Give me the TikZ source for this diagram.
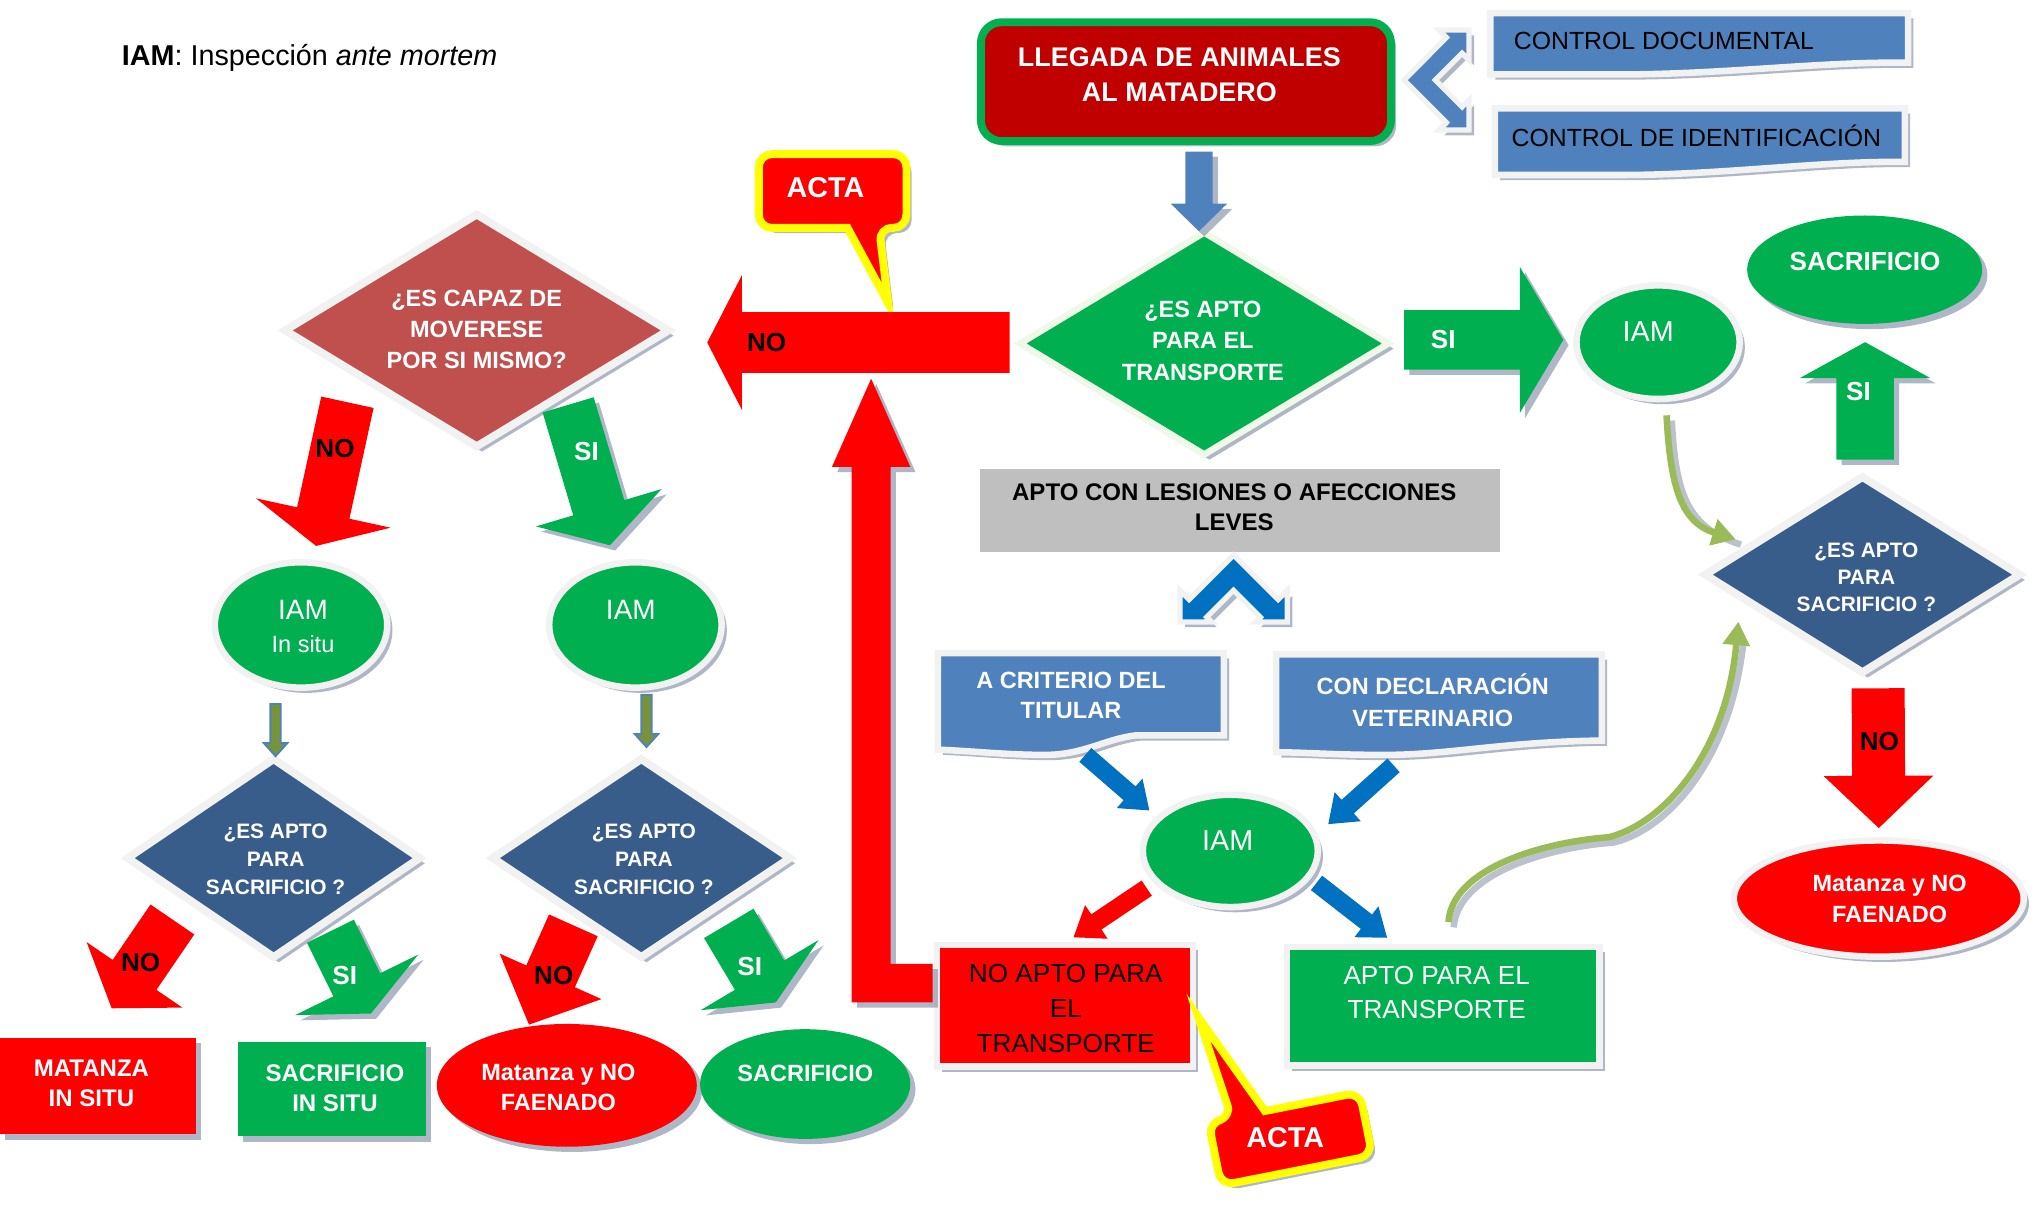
\documentclass[tikz,border=0pt]{standalone}
\usepackage{fontspec}
\setmainfont{Liberation Sans}
\usetikzlibrary{calc,shapes.geometric,shadows,arrows.meta}
\definecolor{redc}{HTML}{FF0000}
\definecolor{darkred}{HTML}{C00000}
\definecolor{grn}{HTML}{00B050}
\definecolor{brownc}{HTML}{C0504D}
\definecolor{navy}{HTML}{385D8A}
\definecolor{docblue}{HTML}{4F81BD}
\definecolor{arrblue}{HTML}{0070C0}
\definecolor{grayc}{HTML}{BFBFBF}
\definecolor{olivec}{HTML}{9BBB59}
\definecolor{smgreen}{HTML}{77933C}
\definecolor{lightc}{HTML}{F2F2F2}
\definecolor{lightg}{HTML}{F0F8E8}
\definecolor{yellowc}{HTML}{FFFF00}
\definecolor{shadowc}{RGB}{141,153,174}
\newcommand\fsz[2]{\fontsize{#1}{#2}\selectfont}
\newcommand\blkarrow[6]{%
  \coordinate (bkH) at ($(#3)!#6!(#2)$);
  \path[#1] ($(#2)!#4!90:(#3)$) -- ($(bkH)!#4!90:(#3)$) -- ($(bkH)!#5!90:(#3)$) -- (#3)
     -- ($(bkH)!#5!-90:(#3)$) -- ($(bkH)!#4!-90:(#3)$) -- ($(#2)!#4!-90:(#3)$) -- cycle;}
\tikzset{
  shd/.style={drop shadow={shadow xshift=2pt,shadow yshift=-2pt,fill=shadowc,opacity=0.7}},
  lightborder/.style={draw=lightc,line width=2.5pt},
  txtw/.style={text=white,align=center,inner sep=0pt},
  txtk/.style={text=black,align=center,inner sep=0pt},
  docbox/.style={fill=docblue,draw=lightc,line width=2.5pt,shd},
  acta/.style={fill=redc,draw=yellowc,line width=3pt,shd},
  chevron/.style={draw=lightc,line width=2pt,line join=miter,shd},
  oliveline/.style={draw=olivec,line width=2.5pt,arrows={-Triangle[length=9pt,width=10pt]}},
  oliveshd/.style={draw=shadowc,line width=2.5pt,opacity=0.6},
  smallarr/.style={fill=smgreen,draw=docblue,line width=0.7pt},
  lbl/.style={inner sep=0pt,font=\bfseries\fsz{10}{12}},
}
\begin{document}
\begin{tikzpicture}[x=0.5pt,y=-0.5pt]
\useasboundingbox (0,0) rectangle (1565,925);

% title
\node[anchor=base west,inner sep=0pt,font=\fsz{11}{13}] (title) at (93,50) {\textbf{IAM}: Inspección \textit{ante mortem}};

% LLEGADA
\node[rectangle,rounded corners=8pt,fill=darkred,draw=grn,line width=3pt,minimum width=157pt,minimum height=45.5pt,inner sep=0pt,shd] (lleg) at (908,62.5) {};

% control boxes
\path[docbox] (1141,10) -- (1461,10) -- (1461,48) .. controls (1395,47) and (1320,57) .. (1240,57) -- (1141,57) -- cycle;
\path[docbox] (1144.5,83) -- (1458.5,83) -- (1458.5,124) .. controls (1395,123) and (1320,134) .. (1240,134) -- (1144.5,134) -- cycle;
% double chevron arrow
\path[chevron,fill=docblue] (1075,61.3) -- (1107.5,28.75) -- (1101.8,23) -- (1124.7,23) -- (1124.7,46) -- (1119.5,40.75) -- (1099,61.3)
  -- (1119.5,81.85) -- (1124.7,76.6) -- (1124.7,99.6) -- (1101.8,99.6) -- (1107.5,93.85) -- cycle;

% transport diamond
\node[diamond,fill=grn,draw=lightg,line width=2.5pt,minimum width=142pt,minimum height=86pt,inner sep=0pt,shd] (dT) at (922,263) {};

% ACTA top
\path[acta] (581,146) [rounded corners=5pt] -- (581,118) -- (694,118) -- (694,174.5) -- (673,174.5) [sharp corners] -- (680,232) -- (649,174.5) [rounded corners=5pt] -- (581,174.5) -- cycle;

% gray box
\node[rectangle,fill=grayc,minimum width=199.35pt,minimum height=32pt,inner sep=0pt] (lev) at (949.35,391) {};
\path[chevron,fill=arrblue] (944.5,425) -- (910.45,459.05) -- (903.4,452) -- (903.4,476.2) -- (927.6,476.2) -- (923.95,472.55) -- (944.5,452)
  -- (965.05,472.55) -- (961.4,476.2) -- (985.6,476.2) -- (985.6,452) -- (978.55,459.05) -- cycle;

% document boxes
\path[docbox] (718,500) -- (937,500) -- (937,563) -- (870,563) .. controls (845,566) and (830,578) .. (800,578) .. controls (770,578) and (745,575) .. (718,574) -- cycle;
\path[docbox] (977,501) -- (1226.5,501) -- (1226.5,567) .. controls (1150,568) and (1110,578) .. (1060,578) .. controls (1020,578) and (1000,576) .. (977,576) -- cycle;

% IAM center
\node[ellipse,fill=grn,lightborder,shd,minimum width=67pt,minimum height=43pt,inner sep=0pt] (iamC) at (942,651.5) {};

% NO APTO / APTO boxes
\node[rectangle,fill=redc,lightborder,shd,minimum width=98pt,minimum height=46.5pt,inner sep=0pt] (noapto) at (815.5,770) {};
\node[rectangle,fill=grn,lightborder,shd,minimum width=119.5pt,minimum height=45.5pt,inner sep=0pt] (apto) at (1105,770.5) {};

% ACTA bottom
\begin{scope}[shift={(988,872)},rotate=11.2]
\path[acta] (-59,0) [rounded corners=5pt] -- (-59,-24.7) -- (-41,-24.7) [sharp corners] -- (-51,-105) -- (-15,-24.7) [rounded corners=5pt] -- (59,-24.7) -- (59,24.7) -- (-59,24.7) -- cycle;
\end{scope}

% red up arrow (L shape)
\path[fill=redc,shd] (714,738) -- (682,738) -- (682,357.5) -- (697,357.5) -- (667,290) -- (637,357.5) -- (652,357.5) -- (652,767.5) -- (714,767.5) -- cycle;

% right side shapes
\node[ellipse,fill=grn,lightborder,shd,minimum width=62.5pt,minimum height=43.5pt,inner sep=0pt] (iamR) at (1269.5,262) {};
\node[ellipse,fill=grn,shd,minimum width=90pt,minimum height=41.5pt,inner sep=0pt] (sacR) at (1427.7,206.5) {};
\node[diamond,fill=navy,draw=lightc,line width=3pt,shd,minimum width=121.6pt,minimum height=76pt,inner sep=0pt] (dR) at (1426,440) {};
\node[ellipse,fill=redc,lightborder,shd,minimum width=111pt,minimum height=44.5pt,inner sep=0pt] (matR) at (1438.5,688) {};

% left side shapes
\node[diamond,fill=brownc,draw=lightc,line width=3pt,shd,minimum width=148pt,minimum height=90pt,inner sep=0pt] (dM) at (365,253) {};
\node[ellipse,fill=grn,lightborder,shd,minimum width=66pt,minimum height=48pt,inner sep=0pt] (iamL) at (230.5,478.5) {};
\node[ellipse,fill=grn,lightborder,shd,minimum width=66pt,minimum height=48pt,inner sep=0pt] (iamM) at (486.5,478.5) {};
\node[diamond,fill=navy,draw=lightc,line width=3pt,shd,minimum width=113pt,minimum height=77pt,inner sep=0pt] (dL1) at (209.5,657) {};
\node[diamond,fill=navy,draw=lightc,line width=3pt,shd,minimum width=115pt,minimum height=77pt,inner sep=0pt] (dL2) at (491,657) {};
\node[rectangle,fill=redc,shd,minimum width=75pt,minimum height=37pt,inner sep=0pt] (matL) at (75,831.5) {};
\node[rectangle,fill=grn,shd,minimum width=72pt,minimum height=36pt,inner sep=0pt] (sacL) at (254,834) {};
\node[ellipse,fill=redc,shd,minimum width=99.5pt,minimum height=47pt,inner sep=0pt] (matB) at (434,831) {};
\node[ellipse,fill=grn,shd,minimum width=80.5pt,minimum height=42pt,inner sep=0pt] (sacB) at (616.5,830) {};

% ---------- arrows
\coordinate (a1t) at (918,116); \coordinate (a1h) at (918,177);
\blkarrow{fill=docblue,shd}{a1t}{a1h}{5.25pt}{10.75pt}{10.5pt}
\coordinate (a2t) at (773,262.25); \coordinate (a2h) at (541.5,262.25);
\blkarrow{fill=redc}{a2t}{a2h}{11.6pt}{25.75pt}{13.25pt}
\coordinate (a3t) at (1075,260.25); \coordinate (a3h) at (1197,260.25);
\blkarrow{fill=grn,shd}{a3t}{a3h}{11.4pt}{28pt}{16.7pt}
\coordinate (a4t) at (1428,352); \coordinate (a4h) at (1428,262);
\blkarrow{fill=grn,shd}{a4t}{a4h}{11pt}{25pt}{13.75pt}
\coordinate (a5t) at (1438,527); \coordinate (a5h) at (1438.5,634);
\blkarrow{fill=redc}{a5t}{a5h}{10.15pt}{21pt}{20pt}
\coordinate (a6t) at (266,308); \coordinate (a6h) at (242,418);
\blkarrow{fill=redc}{a6t}{a6h}{10.25pt}{26.35pt}{12.9pt}
\coordinate (a7t) at (435,310); \coordinate (a7h) at (467,417.5);
\blkarrow{fill=grn,shd}{a7t}{a7h}{10.2pt}{25.1pt}{15pt}
\coordinate (a8t) at (132,704); \coordinate (a8h) at (85.5,772);
\blkarrow{fill=redc}{a8t}{a8h}{10.15pt}{22.2pt}{15.5pt}
\coordinate (a9t) at (253,713); \coordinate (a9h) at (284,776);
\blkarrow{fill=grn,shd}{a9t}{a9h}{10pt}{26.25pt}{12.25pt}
\coordinate (a10t) at (439,708.5); \coordinate (a10h) at (405,784.5);
\blkarrow{fill=redc}{a10t}{a10h}{10.2pt}{21.35pt}{20.25pt}
\coordinate (a11t) at (558,707); \coordinate (a11h) at (594,767.5);
\blkarrow{fill=grn,shd}{a11t}{a11h}{11pt}{26.25pt}{12.15pt}
\coordinate (a12t) at (831,578); \coordinate (a12h) at (880,620.5);
\blkarrow{fill=arrblue}{a12t}{a12h}{3.5pt}{7.5pt}{10pt}
\coordinate (a13t) at (1067,586); \coordinate (a13h) at (1017,631);
\blkarrow{fill=arrblue}{a13t}{a13h}{3.5pt}{7.5pt}{10pt}
\coordinate (a14t) at (1008,676); \coordinate (a14h) at (1062,718);
\blkarrow{fill=arrblue}{a14t}{a14h}{3.5pt}{7.5pt}{10pt}
\coordinate (a15t) at (878,680); \coordinate (a15h) at (822,717.6);
\blkarrow{fill=redc}{a15t}{a15h}{3.5pt}{7.75pt}{10.5pt}
\coordinate (a16t) at (211,539); \coordinate (a16h) at (211,579);
\blkarrow{smallarr}{a16t}{a16h}{2pt}{4.5pt}{5pt}
\coordinate (a17t) at (495,532); \coordinate (a17h) at (495,572);
\blkarrow{smallarr}{a17t}{a17h}{2pt}{4.5pt}{5pt}

% olive curved arrows
\coordinate (c1s) at (1276,318); \coordinate (c1e) at (1329,413);
\draw[oliveshd] ($(c1s)+(4,4)$) .. controls (1283,379) and (1292,404) .. ($(c1e)+(4,4)$);
\draw[oliveline] (c1s) .. controls (1279,375) and (1288,400) .. (c1e);
\coordinate (c2s) at (1109,706); \coordinate (c2e) at (1331,476);
\draw[oliveshd] ($(c2s)+(4,4)$) .. controls (1116,669) and (1184,649) .. (1236,645) .. controls (1279,634) and (1326,579) .. (1335,490);
\draw[oliveline] (c2s) .. controls (1112,665) and (1180,645) .. (1232,641) .. controls (1275,630) and (1322,575) .. (c2e);

% ---------- texts
\node[txtw,font=\bfseries\fsz{10.3}{13.25}] (llegT) at (903,57) {LLEGADA DE ANIMALES\\AL MATADERO};
\node[anchor=west,inner sep=0pt,font=\fsz{9.5}{12}] (cdT) at (1158.7,31) {CONTROL DOCUMENTAL};
\node[anchor=west,inner sep=0pt,font=\fsz{9.5}{12}] (ciT) at (1157,104) {CONTROL DE IDENTIFICACIÓN};
\node[txtw,font=\bfseries\fsz{9}{12.1}] (dTt) at (921,261) {¿ES APTO\\PARA EL\\TRANSPORTE};
\node[txtw,font=\bfseries\fsz{11}{13}] (acta1) at (632,144) {ACTA};
\node[txtk,font=\bfseries\fsz{9.2}{11.5}] (levT) at (945,388.5) {APTO CON LESIONES O AFECCIONES\\LEVES};
\node[txtw,font=\bfseries\fsz{9}{11.5}] (acT) at (820,532.5) {A CRITERIO DEL\\TITULAR};
\node[txtw,font=\bfseries\fsz{9}{12}] (cdvT) at (1097,536) {CON DECLARACIÓN\\VETERINARIO};
\node[txtw,font=\fsz{11}{13}] (iamCt) at (940,643.5) {IAM};
\node[txtk,font=\fsz{10}{13.4}] (noaptoT) at (816,772) {NO APTO PARA\\EL\\TRANSPORTE};
\node[txtw,font=\fsz{10}{13}] (aptoT) at (1100,760) {APTO PARA EL\\TRANSPORTE};
\node[txtw,font=\bfseries\fsz{11}{13}] (acta2) at (984,871) {ACTA};
\node[txtw,font=\fsz{11}{13}] (iamRt) at (1262,254) {IAM};
\node[txtw,font=\bfseries\fsz{10}{12}] (sacRt) at (1428,200.5) {SACRIFICIO};
\node[txtw,font=\bfseries\fsz{8}{10.5}] (dRt) at (1429,442) {¿ES APTO\\PARA\\SACRIFICIO ?};
\node[txtw,font=\bfseries\fsz{9}{11.75}] (matRt) at (1446.8,688) {Matanza y NO\\FAENADO};
\node[txtw,font=\bfseries\fsz{9}{11.9}] (dMt) at (365,252) {¿ES CAPAZ DE\\MOVERESE\\POR SI MISMO?};
\node[txtw,font=\fsz{10.7}{13}] (iamLt) at (232,467) {IAM};
\node[txtw,font=\fsz{9}{11}] (insitu) at (232,493) {In situ};
\node[txtw,font=\fsz{10.7}{13}] (iamMt) at (483,467) {IAM};
\node[txtw,font=\bfseries\fsz{8}{10.6}] (dL1t) at (211,658) {¿ES APTO\\PARA\\SACRIFICIO ?};
\node[txtw,font=\bfseries\fsz{8}{10.6}] (dL2t) at (493,658) {¿ES APTO\\PARA\\SACRIFICIO ?};
\node[txtw,font=\bfseries\fsz{9.2}{11.5}] (matLt) at (70,829.5) {MATANZA\\IN SITU};
\node[txtw,font=\bfseries\fsz{9.2}{11.7}] (sacLt) at (256.5,833.3) {SACRIFICIO\\IN SITU};
\node[txtw,font=\bfseries\fsz{9}{11.5}] (matBt) at (427.5,832.5) {Matanza y NO\\FAENADO};
\node[txtw,font=\bfseries\fsz{9}{12}] (sacBt) at (616.6,822) {SACRIFICIO};

% arrow labels
\node[lbl] (no1) at (587,262) {NO};
\node[lbl,text=white] (si1) at (1105,260) {SI};
\node[lbl,text=white] (si2) at (1423,300) {SI};
\node[lbl] (no2) at (1439,568) {NO};
\node[lbl] (no3) at (256.5,343.5) {NO};
\node[lbl,text=white] (si3) at (449,346) {SI};
\node[lbl] (no4) at (107.7,736.6) {NO};
\node[lbl,text=white] (si4) at (264,747) {SI};
\node[lbl] (no5) at (424,747) {NO};
\node[lbl,text=white] (si5) at (574,740) {SI};
\end{tikzpicture}
\end{document}
